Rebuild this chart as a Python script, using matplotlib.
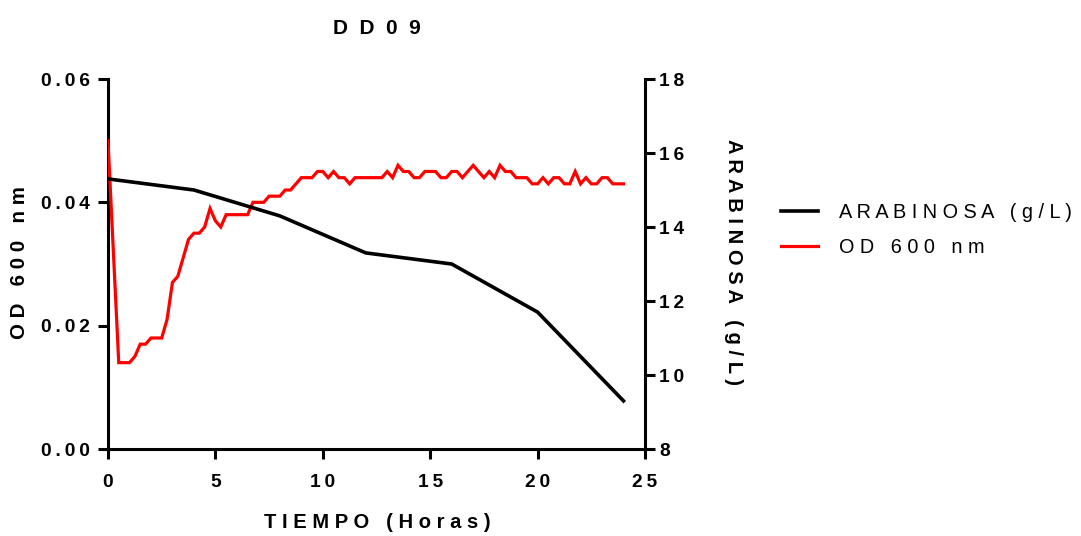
import matplotlib
matplotlib.use("Agg")
import matplotlib.pyplot as plt
from matplotlib.ticker import FuncFormatter, FixedLocator

plt.rcParams['font.family'] = ['Liberation Sans', 'DejaVu Sans']

# Arabinose concentration (g/L), sampled every 4 h
arab_time = [0, 4, 8, 12, 16, 20, 24]
arab_conc = [15.3, 15.0, 14.3, 13.3, 13.0, 11.7, 9.3]

# Optical density at 600 nm, sampled every 15 min
od_time = [i * 0.25 for i in range(97)]
od_600 = [
    0.050, 0.032, 0.014, 0.014, 0.014, 0.015, 0.017, 0.017,   # 0 - 1.75
    0.018, 0.018, 0.018, 0.021, 0.027, 0.028, 0.031, 0.034,   # 2 - 3.75
    0.035, 0.035, 0.036, 0.039, 0.037, 0.036, 0.038, 0.038,   # 4 - 5.75
    0.038, 0.038, 0.038, 0.040, 0.040, 0.040, 0.041, 0.041,   # 6 - 7.75
    0.041, 0.042, 0.042, 0.043, 0.044, 0.044, 0.044, 0.045,   # 8 - 9.75
    0.045, 0.044, 0.045, 0.044, 0.044, 0.043, 0.044, 0.044,   # 10 - 11.75
    0.044, 0.044, 0.044, 0.044, 0.045, 0.044, 0.046, 0.045,   # 12 - 13.75
    0.045, 0.044, 0.044, 0.045, 0.045, 0.045, 0.044, 0.044,   # 14 - 15.75
    0.045, 0.045, 0.044, 0.045, 0.046, 0.045, 0.044, 0.045,   # 16 - 17.75
    0.044, 0.046, 0.045, 0.045, 0.044, 0.044, 0.044, 0.043,   # 18 - 19.75
    0.043, 0.044, 0.043, 0.044, 0.044, 0.043, 0.043, 0.045,   # 20 - 21.75
    0.043, 0.044, 0.043, 0.043, 0.044, 0.044, 0.043, 0.043,   # 22 - 23.75
    0.043,                                                     # 24
]

x_ticks = [0, 5, 10, 15, 20, 25]
od_ticks = [0.00, 0.02, 0.04, 0.06]
arab_ticks = [8, 10, 12, 14, 16, 18]

title = "DD09"
x_label = "TIEMPO (Horas)"
od_label = "OD 600 nm"
arab_label = "ARABINOSA (g/L)"

THIN = "\u2009"


def spaced(s, gap=" "):
    """Spread the letters of a string apart (tracking)."""
    return gap.join(s)


W, H = 1081, 536
fig = plt.figure(figsize=(W / 100, H / 100), dpi=100)
ax = fig.add_axes([108 / W, 1 - 449 / H, (645 - 108) / W, (449 - 79) / H])
ax2 = ax.twinx()

lw_axis = 2.2
for a in (ax, ax2):
    a.spines['top'].set_visible(False)
    a.patch.set_visible(False)
ax.spines['right'].set_visible(False)
ax2.spines['left'].set_visible(False)
ax2.spines['bottom'].set_visible(False)
ax.spines['left'].set_linewidth(lw_axis)
ax.spines['bottom'].set_linewidth(lw_axis)
ax2.spines['right'].set_linewidth(lw_axis)

l_od, = ax.plot(od_time, od_600, color='#ff0000', lw=2.3, solid_joinstyle='miter',
                label=spaced(od_label), zorder=3)
l_ar, = ax2.plot(arab_time, arab_conc, color='black', lw=2.6,
                 label=spaced(arab_label), zorder=2)

ax.set_xlim(0, 25)
ax.set_ylim(0, 0.06)
ax2.set_ylim(8, 18)

ax.xaxis.set_major_locator(FixedLocator(x_ticks))
ax.yaxis.set_major_locator(FixedLocator(od_ticks))
ax2.yaxis.set_major_locator(FixedLocator(arab_ticks))
ax.xaxis.set_major_formatter(FuncFormatter(lambda v, p: spaced(f"{v:g}", THIN)))
ax.yaxis.set_major_formatter(FuncFormatter(lambda v, p: spaced(f"{v:.2f}", THIN)))
ax2.yaxis.set_major_formatter(FuncFormatter(lambda v, p: spaced(f"{v:g}", THIN)))

tick_kw = dict(direction='out', length=7, width=lw_axis, labelsize=13.8)
ax.tick_params(axis='x', pad=11, **tick_kw)
ax.tick_params(axis='y', pad=6, **tick_kw)
ax2.tick_params(axis='y', pad=3, **tick_kw)
for lab in ax.get_xticklabels() + ax.get_yticklabels() + ax2.get_yticklabels():
    lab.set_fontweight('bold')

fig.text(377 / W, 1 - 28 / H, spaced(title, "  "), ha='center', va='center',
         fontsize=15, fontweight='bold')
fig.text(377 / W, 1 - 522 / H, spaced(x_label), ha='center', va='center',
         fontsize=14.5, fontweight='bold')
fig.text(20 / W, 1 - 263 / H, spaced(od_label), ha='center', va='center',
         rotation=90, fontsize=14.8, fontweight='bold')
fig.text(733 / W, 1 - 262 / H, spaced(arab_label), ha='center', va='center',
         rotation=270, fontsize=14.5, fontweight='bold')

fig.legend(handles=[l_ar, l_od], loc='center left',
           bbox_to_anchor=(763 / W, 1 - 230 / H), frameon=False,
           fontsize=14.3, handlelength=1.86, handletextpad=1.05, labelspacing=0.77)

fig.savefig("out.png", dpi=100)
